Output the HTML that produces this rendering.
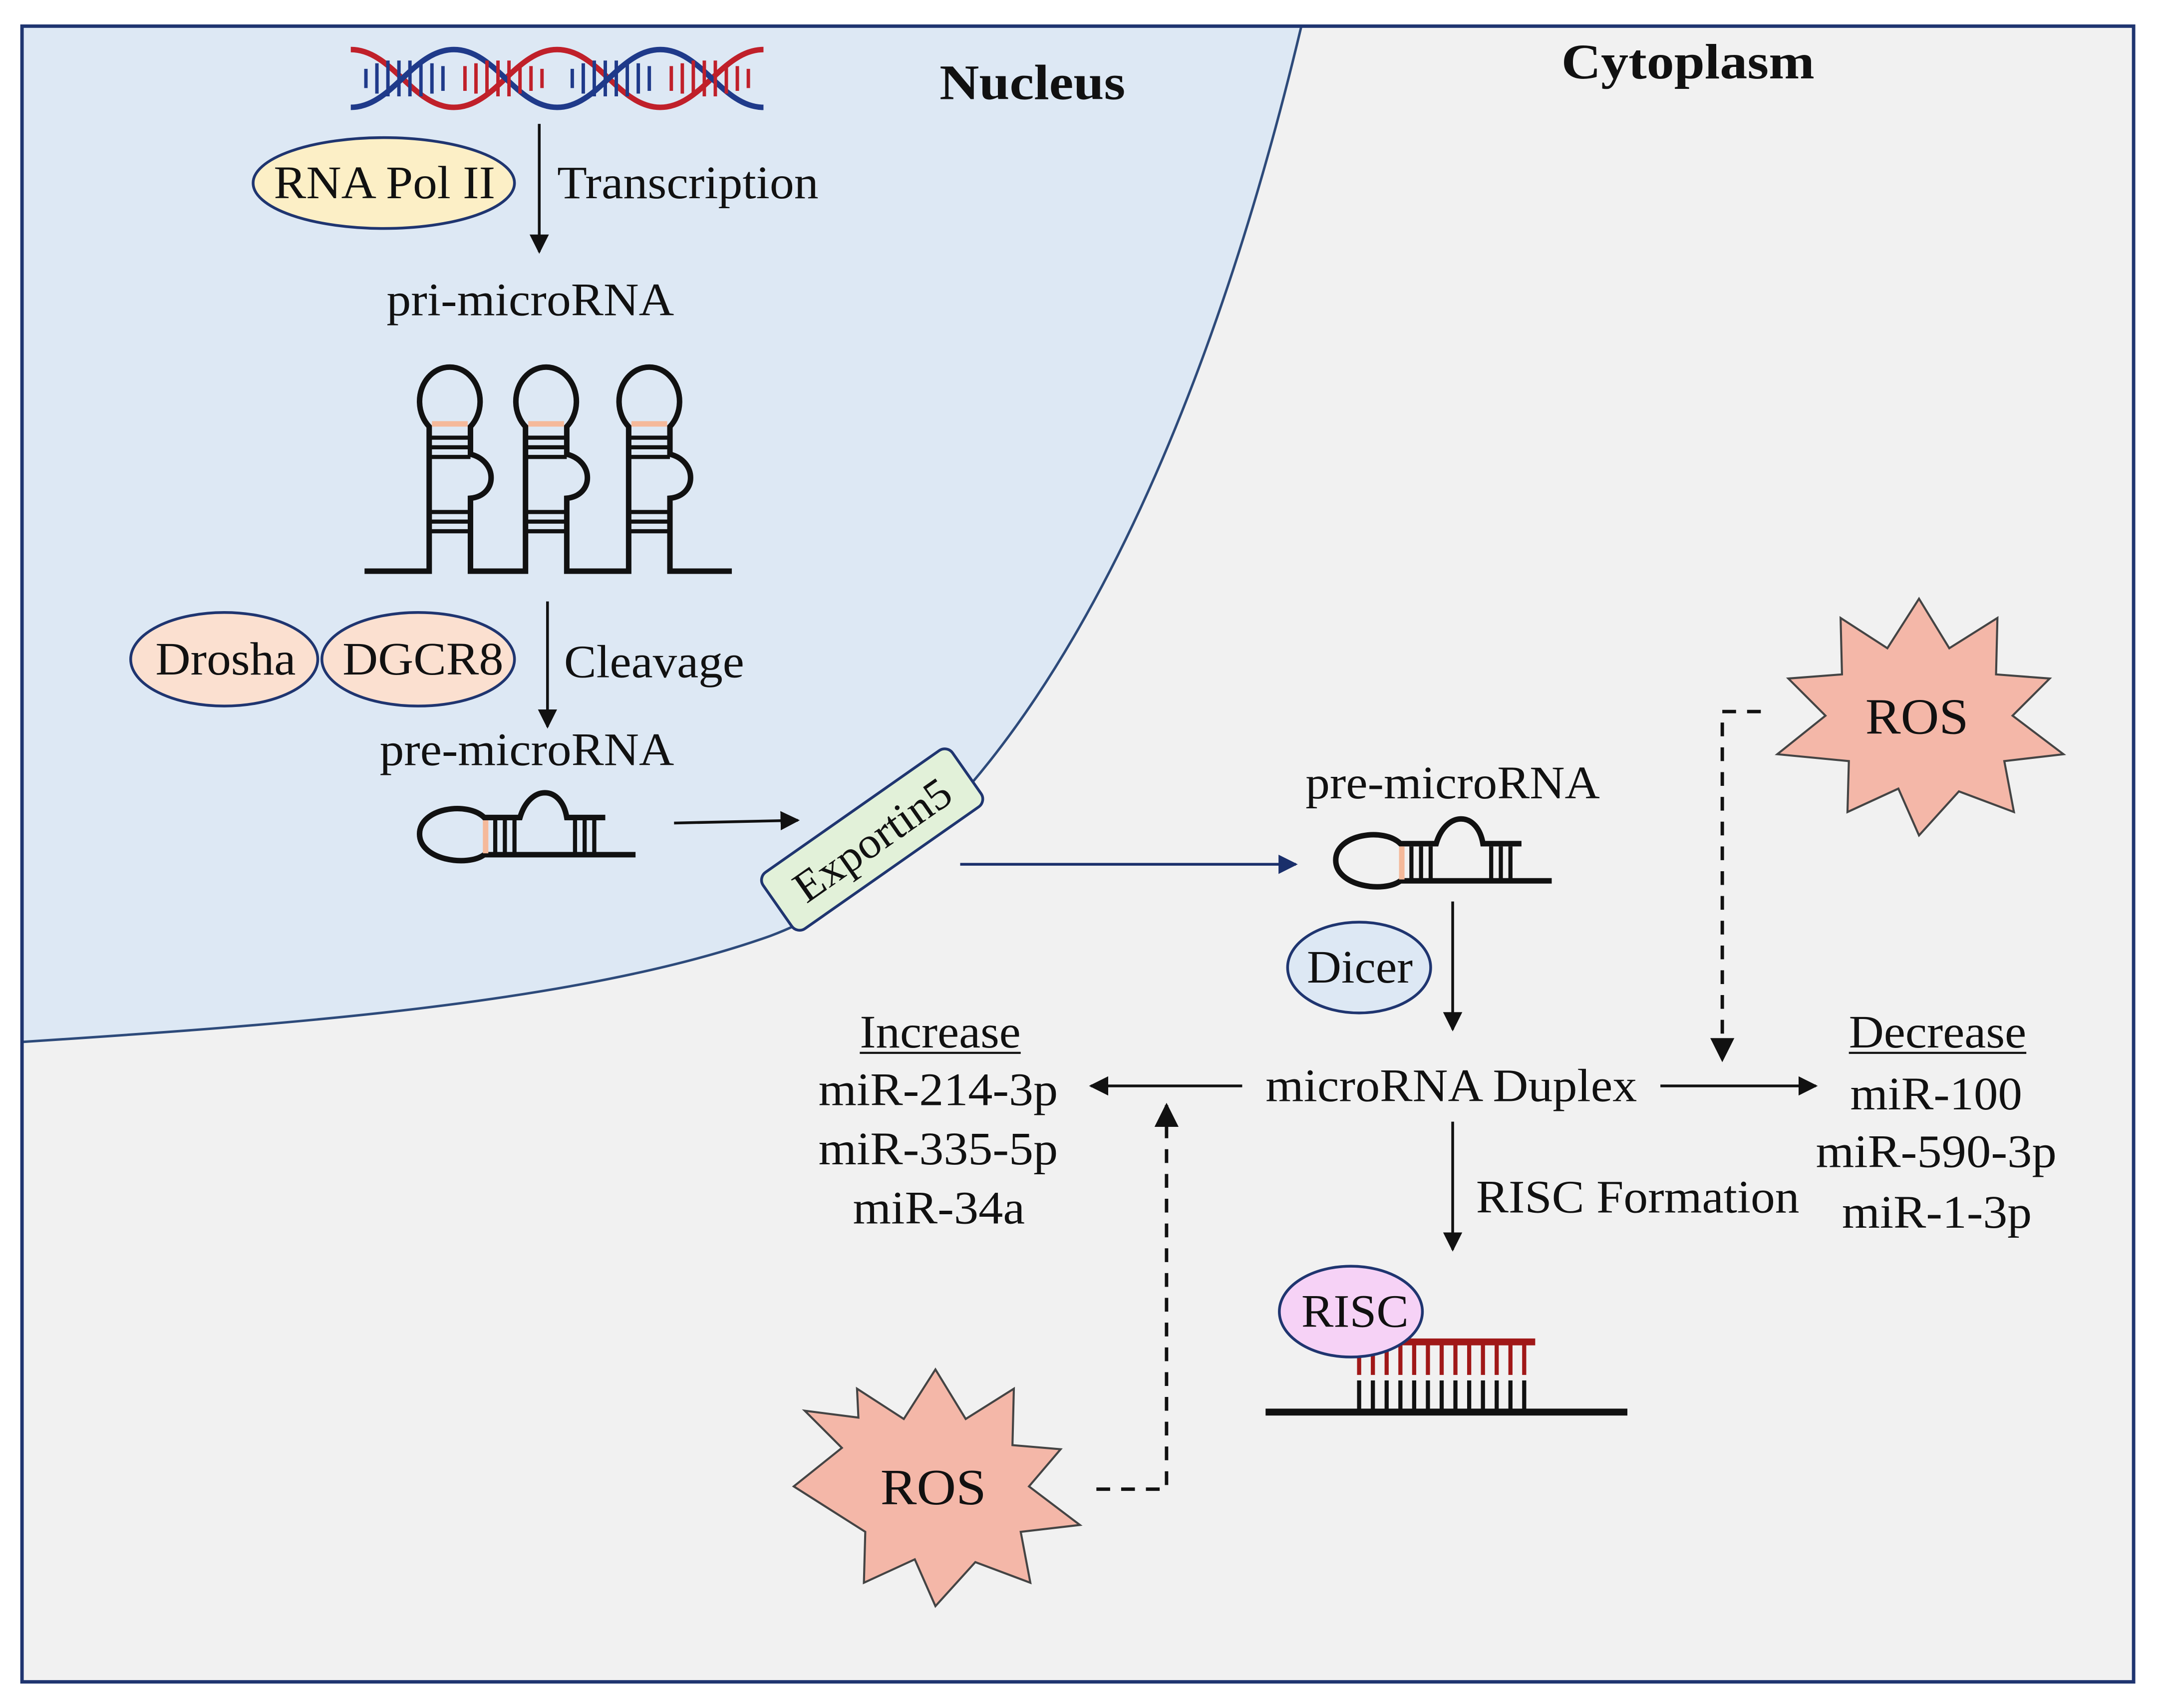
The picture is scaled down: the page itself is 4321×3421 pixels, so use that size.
<!DOCTYPE html>
<html><head><meta charset="utf-8"><style>
html,body{margin:0;padding:0;background:#fff;}
svg{display:block;}
text{font-family:"Liberation Serif",serif;fill:#111;}
</style></head><body>
<svg width="4321" height="3421" viewBox="0 0 1568 1241" preserveAspectRatio="none" xmlns="http://www.w3.org/2000/svg">
<defs>
<marker id="ah" viewBox="0 0 10 10" refX="9" refY="5" markerWidth="7" markerHeight="7" orient="auto-start-reverse"><path d="M0,0 L10,5 L0,10 z" fill="#111"/></marker>
<marker id="ahb" viewBox="0 0 10 10" refX="9" refY="5" markerWidth="7" markerHeight="7" orient="auto"><path d="M0,0 L10,5 L0,10 z" fill="#1a2f6b"/></marker>
</defs>
<rect x="0" y="0" width="1568" height="1241" fill="#fff"/>
<rect x="16" y="19" width="1535" height="1203" fill="#f1f1f1"/>
<path d="M946,19 C860,380 720,620 560,680 C420,730 200,745 17,757 L17,19 Z" fill="#dde8f4"/>
<path d="M946,19 C860,380 720,620 560,680 C420,730 200,745 17,757" fill="none" stroke="#2d4a7a" stroke-width="1.8"/>
<rect x="16" y="19" width="1535" height="1203" fill="none" stroke="#1f3570" stroke-width="2.5"/>

<!-- DNA -->
<g stroke-width="4" fill="none">
<path d="M255,36 C285,36 300,78 330,78 C360,78 375,36 405,36 C435,36 450,78 480,78 C510,78 525,36 555,36" stroke="#c0202a"/>
<path d="M255,78 C285,78 300,36 330,36 C360,36 375,78 405,78 C435,78 450,36 480,36 C510,36 525,78 555,78" stroke="#1f3a8a"/>
</g>
<g stroke-width="2.5">
<path d="M266,50v14M274,46v22M282,44v26M290,44v26M298,44v26M306,44v26M314,46v22M322,48v18" stroke="#1f3a8a"/>
<path d="M338,48v18M346,46v22M354,44v26M362,44v26M370,44v26M378,46v22M386,48v18M394,50v14" stroke="#c0202a"/>
<path d="M416,50v14M424,46v22M432,44v26M440,44v26M448,44v26M456,44v26M464,46v22M472,48v18" stroke="#1f3a8a"/>
<path d="M488,48v18M496,46v22M504,44v26M512,44v26M520,44v26M528,46v22M536,48v18M544,50v14" stroke="#c0202a"/>
</g>

<text x="683" y="72" font-size="36" font-weight="bold" textLength="135" lengthAdjust="spacingAndGlyphs">Nucleus</text>
<text x="1135" y="57" font-size="36" font-weight="bold" textLength="184" lengthAdjust="spacingAndGlyphs">Cytoplasm</text>

<ellipse cx="279" cy="133" rx="95" ry="33" fill="#fcefc6" stroke="#1f3570" stroke-width="2"/>
<text x="199" y="144" font-size="34" textLength="161" lengthAdjust="spacingAndGlyphs">RNA Pol II</text>
<line x1="392" y1="90" x2="392" y2="183" stroke="#111" stroke-width="2" marker-end="url(#ah)"/>
<text x="405" y="144" font-size="34" textLength="190" lengthAdjust="spacingAndGlyphs">Transcription</text>
<text x="281" y="229" font-size="34" textLength="209" lengthAdjust="spacingAndGlyphs">pri-microRNA</text>

<!-- pri hairpins -->
<g fill="none" stroke="#111" stroke-width="4">
<path d="M265,415 H312 V310 A22,25 0 1 1 342,310 V330 C362,335 362,360 342,362 V415 H382 V310 A22,25 0 1 1 412,310 V330 C432,335 432,360 412,362 V415 H457 V310 A22,25 0 1 1 487,310 V330 C507,335 507,360 487,362 V415 H532"/>
</g>
<g stroke="#111" stroke-width="3">
<path d="M312,318h30M312,325h30M312,332h30M312,372h30M312,379h30M312,386h30"/>
<path d="M382,318h30M382,325h30M382,332h30M382,372h30M382,379h30M382,386h30"/>
<path d="M457,318h30M457,325h30M457,332h30M457,372h30M457,379h30M457,386h30"/>
</g>
<g stroke="#f5b99a" stroke-width="4"><path d="M314,308h26M384,308h26M459,308h26"/></g>

<ellipse cx="163" cy="479" rx="68" ry="34" fill="#fbe0d0" stroke="#1f3570" stroke-width="2"/>
<text x="113" y="490" font-size="34" textLength="102" lengthAdjust="spacingAndGlyphs">Drosha</text>
<ellipse cx="304" cy="479" rx="70" ry="34" fill="#fbe0d0" stroke="#1f3570" stroke-width="2"/>
<text x="249" y="490" font-size="34" textLength="117" lengthAdjust="spacingAndGlyphs">DGCR8</text>
<line x1="398" y1="437" x2="398" y2="528" stroke="#111" stroke-width="2" marker-end="url(#ah)"/>
<text x="410" y="492" font-size="34" textLength="131" lengthAdjust="spacingAndGlyphs">Cleavage</text>
<text x="276" y="556" font-size="34" textLength="214" lengthAdjust="spacingAndGlyphs">pre-microRNA</text>

<!-- pre hairpin nucleus -->
<g fill="none" stroke="#111" stroke-width="4">
<path d="M462,621 H352 C340,630 305,625 305,606 C305,587 340,582 352,594 H378 C385,570 408,570 412,594 H440"/>
</g>
<g stroke="#111" stroke-width="3"><path d="M360,596v24M367,596v24M374,596v24M418,596v24M425,596v24M432,596v24"/></g>
<line x1="353" y1="596" x2="353" y2="620" stroke="#f5b99a" stroke-width="4"/>
<line x1="490" y1="598" x2="580" y2="596" stroke="#111" stroke-width="2" marker-end="url(#ah)"/>

<g transform="translate(634,610) rotate(-35)">
<rect x="-84" y="-25" width="168" height="50" rx="7" fill="#e2f1d9" stroke="#1f3570" stroke-width="2"/>
<text x="-66" y="11" font-size="32" textLength="132" lengthAdjust="spacingAndGlyphs">Exportin5</text>
</g>
<line x1="698" y1="628" x2="942" y2="628" stroke="#1a2f6b" stroke-width="2" marker-end="url(#ahb)"/>

<text x="949" y="580" font-size="34" textLength="214" lengthAdjust="spacingAndGlyphs">pre-microRNA</text>
<g fill="none" stroke="#111" stroke-width="4">
<path d="M1128,640 H1018 C1006,649 971,644 971,625 C971,606 1006,601 1018,613 H1044 C1051,589 1074,589 1078,613 H1106"/>
</g>
<g stroke="#111" stroke-width="3"><path d="M1026,615v24M1033,615v24M1040,615v24M1084,615v24M1091,615v24M1098,615v24"/></g>
<line x1="1019" y1="615" x2="1019" y2="639" stroke="#f5b99a" stroke-width="4"/>

<ellipse cx="988" cy="703" rx="52" ry="33" fill="#dde8f4" stroke="#1f3570" stroke-width="2"/>
<text x="950" y="714" font-size="34" textLength="77" lengthAdjust="spacingAndGlyphs">Dicer</text>
<line x1="1056" y1="655" x2="1056" y2="748" stroke="#111" stroke-width="2" marker-end="url(#ah)"/>

<text x="920" y="800" font-size="34" textLength="270" lengthAdjust="spacingAndGlyphs">microRNA Duplex</text>
<line x1="903" y1="789" x2="793" y2="789" stroke="#111" stroke-width="2" marker-end="url(#ah)"/>
<text x="625" y="761" font-size="34" textLength="117" lengthAdjust="spacingAndGlyphs">Increase</text>
<line x1="625" y1="765" x2="742" y2="765" stroke="#111" stroke-width="1.5"/>
<text x="595" y="803" font-size="34" textLength="174" lengthAdjust="spacingAndGlyphs">miR-214-3p</text>
<text x="595" y="846" font-size="34" textLength="174" lengthAdjust="spacingAndGlyphs">miR-335-5p</text>
<text x="620" y="889" font-size="34" textLength="125" lengthAdjust="spacingAndGlyphs">miR-34a</text>

<line x1="1207" y1="789" x2="1320" y2="789" stroke="#111" stroke-width="2" marker-end="url(#ah)"/>
<text x="1344" y="761" font-size="34" textLength="129" lengthAdjust="spacingAndGlyphs">Decrease</text>
<line x1="1344" y1="765" x2="1473" y2="765" stroke="#111" stroke-width="1.5"/>
<text x="1345" y="806" font-size="34" textLength="125" lengthAdjust="spacingAndGlyphs">miR-100</text>
<text x="1320" y="848" font-size="34" textLength="175" lengthAdjust="spacingAndGlyphs">miR-590-3p</text>
<text x="1339" y="892" font-size="34" textLength="138" lengthAdjust="spacingAndGlyphs">miR-1-3p</text>

<line x1="1056" y1="815" x2="1056" y2="908" stroke="#111" stroke-width="2" marker-end="url(#ah)"/>
<text x="1073" y="881" font-size="34" textLength="235" lengthAdjust="spacingAndGlyphs">RISC Formation</text>

<!-- RISC -->
<line x1="984" y1="975" x2="1116" y2="975" stroke="#a01818" stroke-width="5"/>
<g stroke="#a01818" stroke-width="3"><path d="M988,975v24M998,975v24M1008,975v24M1018,975v24M1028,975v24M1038,975v24M1048,975v24M1058,975v24M1068,975v24M1078,975v24M1088,975v24M1098,975v24M1108,975v24"/></g>
<g stroke="#111" stroke-width="3"><path d="M988,1003v22M998,1003v22M1008,1003v22M1018,1003v22M1028,1003v22M1038,1003v22M1048,1003v22M1058,1003v22M1068,1003v22M1078,1003v22M1088,1003v22M1098,1003v22M1108,1003v22"/></g>
<line x1="920" y1="1026" x2="1183" y2="1026" stroke="#111" stroke-width="5"/>
<ellipse cx="982" cy="953" rx="52" ry="33" fill="#f6d2f6" stroke="#1f3570" stroke-width="2"/>
<text x="946" y="964" font-size="34" textLength="78" lengthAdjust="spacingAndGlyphs">RISC</text>

<!-- ROS stars -->
<polygon fill="#f4b7a8" stroke="#444" stroke-width="1.5" points="1395,435 1417,471 1452,449 1451,490 1490,493 1463,520 1500,548 1457,553 1464,590 1424,575 1395,607 1380,573 1343,590 1344,553 1292,548 1327,520 1300,493 1339,490 1338,449 1372,471"/>
<text x="1356" y="533" font-size="37" textLength="75" lengthAdjust="spacingAndGlyphs">ROS</text>
<polygon fill="#f4b7a8" stroke="#444" stroke-width="1.5" points="680,995 702,1031 737,1009 736,1050 771,1053 748,1080 785,1108 742,1113 749,1150 709,1135 680,1167 665,1133 628,1150 629,1113 577,1080 612,1052 585,1025 624,1030 623,1009 657,1031"/>
<text x="640" y="1093" font-size="37" textLength="77" lengthAdjust="spacingAndGlyphs">ROS</text>

<path d="M1280,517 H1252 V770" fill="none" stroke="#111" stroke-width="2.5" stroke-dasharray="10,8" marker-end="url(#ah)"/>
<path d="M797,1082 H848 V803" fill="none" stroke="#111" stroke-width="2.5" stroke-dasharray="10,8" marker-end="url(#ah)"/>
</svg>
</body></html>
